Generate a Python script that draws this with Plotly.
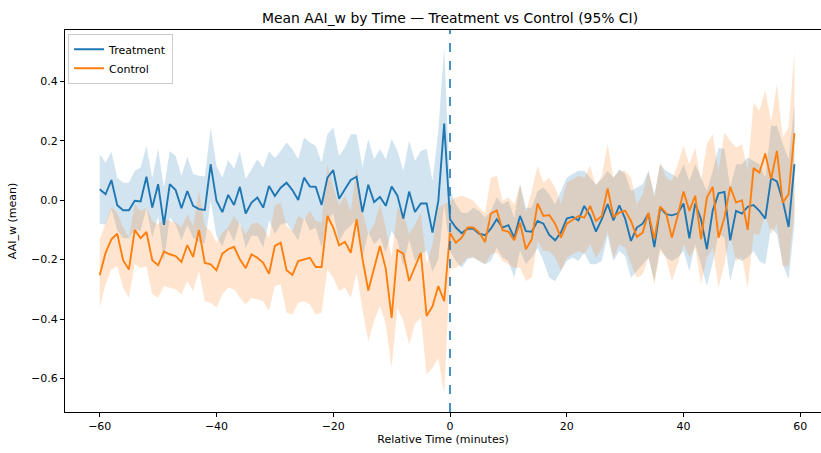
import plotly.graph_objects as go

time = list(range(-60, 60))

treat_mean = [0.037, 0.020, 0.068, -0.017, -0.034, -0.034, -0.002, -0.004, 0.079, -0.025,
              0.054, -0.083, 0.054, 0.034, -0.027, 0.031, -0.019, -0.030, -0.033, 0.121,
              -0.002, -0.040, 0.018, -0.016, 0.045, -0.045, -0.008, 0.009, -0.025, 0.048,
              0.014, 0.042, 0.059, 0.034, 0.001, 0.076, 0.046, 0.045, -0.016, 0.076,
              0.101, 0.005, 0.037, 0.068, 0.079, -0.040, 0.052, -0.006, 0.011, -0.019,
              0.046, 0.015, -0.062, 0.029, -0.040, -0.011, -0.011, -0.109, -0.002, 0.258,
              -0.064, -0.092, -0.111, -0.096, -0.096, -0.113, -0.118, -0.096, -0.064, -0.092,
              -0.084, -0.126, -0.053, -0.104, -0.106, -0.070, -0.079, -0.117, -0.135, -0.109,
              -0.062, -0.056, -0.068, -0.019, -0.053, -0.106, -0.064, -0.013, -0.068, -0.017,
              -0.062, -0.137, -0.092, -0.079, -0.045, -0.158, -0.025, -0.047, -0.051, -0.045,
              -0.011, -0.128, -0.011, -0.064, -0.165, -0.035, 0.023, 0.028, -0.135, -0.036,
              -0.045, -0.022, -0.016, -0.036, -0.062, 0.074, 0.063, -0.002, -0.090, 0.121]

treat_upper = [0.155, 0.127, 0.164, 0.076, 0.059, 0.059, 0.099, 0.110, 0.183, 0.076,
               0.172, 0.043, 0.166, 0.149, 0.082, 0.146, 0.088, 0.082, 0.080, 0.245,
               0.116, 0.076, 0.135, 0.107, 0.164, 0.071, 0.104, 0.138, 0.110, 0.164,
               0.142, 0.166, 0.194, 0.172, 0.138, 0.211, 0.194, 0.183, 0.127, 0.222,
               0.245, 0.149, 0.178, 0.222, 0.222, 0.112, 0.206, 0.138, 0.172, 0.138,
               0.206, 0.166, 0.099, 0.200, 0.133, 0.166, 0.172, 0.065, 0.234, 0.515,
               0.037, -0.014, -0.042, -0.042, -0.025, -0.036, -0.059, -0.036, 0.009, -0.014,
               -0.002, -0.059, 0.054, -0.025, -0.025, 0.031, 0.043, 0.020, -0.014, 0.031,
               0.076, 0.088, 0.099, 0.099, 0.076, 0.054, 0.071, 0.099, 0.076, 0.104,
               0.088, 0.031, 0.043, 0.054, 0.099, 0.020, 0.121, 0.099, 0.088, 0.076,
               0.121, 0.065, 0.121, 0.076, 0.031, 0.099, 0.177, 0.172, 0.043, 0.121,
               0.121, 0.144, 0.133, 0.121, 0.076, 0.251, 0.251, 0.189, 0.138, 0.324]

treat_lower = [-0.079, -0.083, -0.030, -0.101, -0.128, -0.128, -0.098, -0.104, -0.025, -0.126,
               -0.053, -0.209, -0.058, -0.082, -0.136, -0.084, -0.126, -0.142, -0.146, -0.003,
               -0.120, -0.156, -0.099, -0.139, -0.074, -0.161, -0.120, -0.120, -0.160, -0.068,
               -0.114, -0.082, -0.076, -0.104, -0.136, -0.059, -0.102, -0.093, -0.159, -0.070,
               -0.043, -0.139, -0.104, -0.086, -0.064, -0.192, -0.109, -0.149, -0.126, -0.177,
               -0.104, -0.137, -0.222, -0.132, -0.205, -0.182, -0.171, -0.241, -0.200, -0.014,
               -0.171, -0.205, -0.227, -0.199, -0.193, -0.205, -0.216, -0.205, -0.160, -0.193,
               -0.205, -0.261, -0.171, -0.216, -0.193, -0.160, -0.205, -0.261, -0.272, -0.238,
               -0.205, -0.193, -0.205, -0.177, -0.216, -0.216, -0.205, -0.120, -0.205, -0.171,
               -0.188, -0.261, -0.238, -0.216, -0.193, -0.272, -0.160, -0.193, -0.205, -0.193,
               -0.171, -0.238, -0.148, -0.216, -0.289, -0.210, -0.115, -0.126, -0.272, -0.193,
               -0.205, -0.193, -0.171, -0.205, -0.216, -0.092, -0.115, -0.216, -0.267, -0.081]

ctrl_mean = [-0.253, -0.177, -0.132, -0.113, -0.202, -0.233, -0.100, -0.128, -0.107, -0.202,
             -0.219, -0.173, -0.182, -0.188, -0.208, -0.151, -0.191, -0.100, -0.211, -0.216,
             -0.236, -0.180, -0.165, -0.157, -0.199, -0.229, -0.182, -0.194, -0.211, -0.248,
             -0.154, -0.143, -0.236, -0.252, -0.205, -0.199, -0.194, -0.225, -0.225, -0.053,
             -0.092, -0.152, -0.140, -0.177, -0.064, -0.196, -0.304, -0.229, -0.154, -0.231,
             -0.396, -0.168, -0.180, -0.272, -0.222, -0.177, -0.390, -0.357, -0.289, -0.340,
             -0.110, -0.143, -0.126, -0.092, -0.092, -0.109, -0.141, -0.045, -0.034, -0.101,
             -0.106, -0.135, -0.076, -0.165, -0.131, -0.011, -0.053, -0.050, -0.079, -0.126,
             -0.079, -0.066, -0.053, -0.059, -0.019, -0.070, -0.053, 0.040, -0.056, -0.042,
             -0.035, -0.070, -0.124, -0.109, -0.042, -0.131, -0.022, -0.042, -0.126, -0.053,
             0.029, -0.036, 0.015, -0.131, 0.009, 0.045, -0.126, -0.059, 0.045, -0.008,
             0.000, -0.100, 0.108, 0.093, 0.157, 0.071, 0.166, -0.008, 0.020, 0.226]

ctrl_upper = [-0.132, -0.075, -0.023, -0.042, -0.092, -0.126, -0.014, -0.036, -0.025, -0.070,
              -0.081, -0.064, -0.070, -0.075, -0.092, -0.047, -0.087, 0.031, -0.087, -0.104,
              -0.143, -0.109, -0.092, -0.053, -0.081, -0.115, -0.081, -0.075, -0.092, -0.126,
              -0.019, -0.008, -0.087, -0.104, -0.053, -0.064, -0.036, -0.070, -0.075, 0.121,
              0.043, -0.019, 0.015, -0.036, 0.110, -0.036, -0.115, -0.081, -0.014, -0.092,
              -0.193, -0.025, -0.042, -0.115, -0.081, -0.042, -0.216, -0.148, -0.025, -0.014,
              -0.002, 0.009, 0.015, 0.009, -0.002, -0.025, -0.042, 0.076, 0.082, -0.002,
              0.009, -0.014, 0.054, -0.042, 0.031, 0.116, 0.059, 0.076, 0.043, -0.014,
              0.059, 0.071, 0.082, 0.076, 0.116, 0.048, 0.082, 0.189, 0.076, 0.099,
              0.099, 0.076, -0.014, 0.020, 0.099, 0.009, 0.127, 0.076, 0.065, 0.121,
              0.183, 0.121, 0.177, 0.065, 0.189, 0.222, 0.099, 0.228, 0.200, 0.177,
              0.189, 0.099, 0.329, 0.301, 0.369, 0.267, 0.391, 0.211, 0.245, 0.504]

ctrl_lower = [-0.362, -0.283, -0.233, -0.222, -0.295, -0.328, -0.216, -0.229, -0.222, -0.317,
              -0.328, -0.289, -0.295, -0.300, -0.317, -0.272, -0.306, -0.238, -0.340, -0.345,
              -0.362, -0.317, -0.295, -0.300, -0.328, -0.351, -0.328, -0.334, -0.340, -0.373,
              -0.289, -0.283, -0.379, -0.385, -0.345, -0.340, -0.351, -0.385, -0.379, -0.233,
              -0.261, -0.306, -0.295, -0.328, -0.244, -0.368, -0.475, -0.407, -0.356, -0.418,
              -0.564, -0.362, -0.407, -0.486, -0.418, -0.396, -0.587, -0.564, -0.531, -0.654,
              -0.233, -0.227, -0.216, -0.193, -0.193, -0.205, -0.216, -0.182, -0.177, -0.205,
              -0.216, -0.227, -0.227, -0.272, -0.261, -0.137, -0.171, -0.171, -0.193, -0.238,
              -0.193, -0.182, -0.171, -0.182, -0.148, -0.193, -0.165, -0.104, -0.193, -0.148,
              -0.160, -0.216, -0.261, -0.250, -0.193, -0.283, -0.171, -0.193, -0.272, -0.216,
              -0.148, -0.193, -0.160, -0.283, -0.193, -0.160, -0.295, -0.216, -0.115, -0.205,
              -0.193, -0.295, -0.115, -0.115, -0.047, -0.115, -0.081, -0.222, -0.222, -0.036]

BLUE = "#1f77b4"
ORANGE = "#ff7f0e"
FONT = "DejaVu Sans"

fig = go.Figure()

for lower, upper, fillc in [(treat_lower, treat_upper, "rgba(31,119,180,0.2)"),
                            (ctrl_lower, ctrl_upper, "rgba(255,127,14,0.2)")]:
    fig.add_trace(go.Scatter(x=time, y=lower, mode="lines", line=dict(width=0),
                             showlegend=False, hoverinfo="skip"))
    fig.add_trace(go.Scatter(x=time, y=upper, mode="lines", line=dict(width=0),
                             fill="tonexty", fillcolor=fillc, showlegend=False,
                             hoverinfo="skip"))

fig.add_trace(go.Scatter(x=time, y=treat_mean, mode="lines", name="Treatment",
                         line=dict(color=BLUE, width=1.9)))
fig.add_trace(go.Scatter(x=time, y=ctrl_mean, mode="lines", name="Control",
                         line=dict(color=ORANGE, width=1.9)))

fig.add_shape(type="line", x0=0, x1=0, y0=0, y1=1, xref="x", yref="paper",
              line=dict(color=BLUE, width=1.6, dash="dash"))

fig.update_layout(
    width=821, height=453,
    margin=dict(l=65, r=0, t=30, b=41, autoexpand=False),
    paper_bgcolor="white", plot_bgcolor="white",
    font=dict(family=FONT, size=11, color="black"),
    title=dict(text="Mean AAI_w by Time — Treatment vs Control (95% CI)",
               x=450 / 821, xanchor="center", y=1 - 18 / 453, yanchor="middle",
               font=dict(size=13.9, family=FONT)),
    legend=dict(x=0.004, y=0.99, xanchor="left", yanchor="top", traceorder="normal",
                bgcolor="rgba(255,255,255,0.8)", bordercolor="#cccccc", borderwidth=1,
                font=dict(size=11, family=FONT), tracegroupgap=0, itemwidth=30),
    showlegend=True,
)

fig.update_xaxes(range=[-65.95, 63.55], tickmode="array",
                 tickvals=[-60, -40, -20, 0, 20, 40, 60], automargin=False,
                 ticks="outside", ticklen=4, tickcolor="black", showgrid=False,
                 zeroline=False, showline=True, linecolor="black", linewidth=1, mirror=True,
                 title=dict(text="Relative Time (minutes)", standoff=2,
                            font=dict(size=11, family=FONT)))
fig.update_yaxes(range=[-0.713, 0.573], tickmode="array",
                 tickvals=[-0.6, -0.4, -0.2, 0.0, 0.2, 0.4], tickformat=".1f",
                 ticks="outside", ticklen=4, tickcolor="black", showgrid=False,
                 automargin=False,
                 zeroline=False, showline=True, linecolor="black", linewidth=1, mirror=True,
                 title=dict(text="AAI_w (mean)", standoff=12,
                            font=dict(size=11, family=FONT)))

fig.write_html("out.html", config={"displayModeBar": False},
               post_script="document.body.style.margin='0';document.body.style.padding='0';")
